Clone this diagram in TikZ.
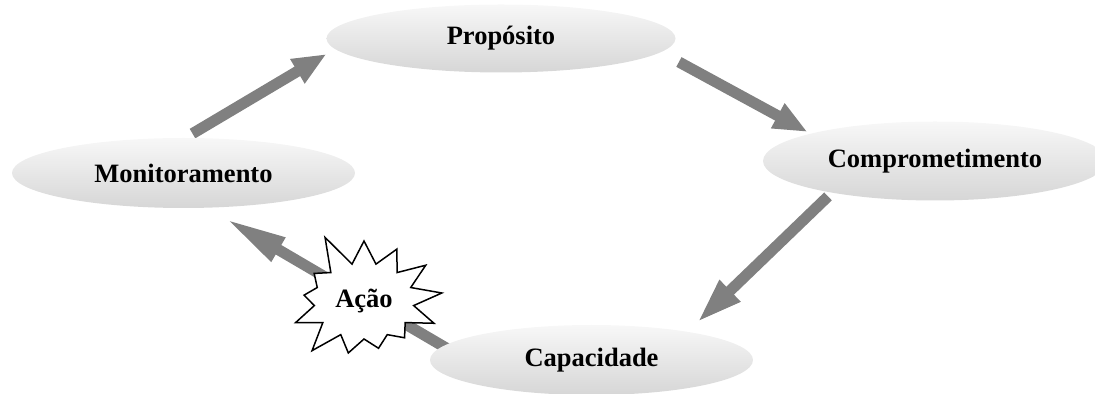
\documentclass[tikz,border=0pt]{standalone}
\usepackage{fontspec}
\setmainfont{Liberation Serif}
\usetikzlibrary{arrows.meta,shapes.geometric,shapes.symbols,backgrounds}

\begin{document}
\begin{tikzpicture}[x=0.5pt,y=-0.5pt]

        \useasboundingbox (0,0) rectangle (1095,394);

        \begin{scope}[every node/.style={ellipse,inner sep=0pt,top color=gray!6,bottom color=gray!32,
            font=\fontsize{13.25}{15}\selectfont\bfseries}]
          \node[minimum width=174.5pt,minimum height=34pt] (prop) at (501,38.5) {Propósito};
          \node[minimum width=171.5pt,minimum height=35pt] (mon)  at (183.5,173) {Monitoramento};
          \node[minimum width=172pt,minimum height=39.5pt] (comp) at (935,161)   {Comprometimento};
          \node[minimum width=161.5pt,minimum height=35pt] (cap)  at (591.5,360) {Capacidade};
        \end{scope}

        \node[starburst,draw,fill=white,line width=0.75pt,starburst points=13,
          starburst point height=18pt,random starburst=5,minimum width=80pt,minimum height=74pt,
          font=\fontsize{13.25}{15}\selectfont\bfseries] (acao) at (364,301) {Ação};

        \begin{scope}[on background layer,
            every edge/.style={draw=gray,line width=5.5pt,-{Triangle[length=17pt,width=13pt]}}]
          \path ([shift={(9,-4)}]mon.north)   edge ([shift={(0.5,15.5)}]prop.west);
          \path ([shift={(3,23.5)}]prop.east) edge ([shift={(45,-29)}]comp.west);
          \path ([shift={(-107,-4.5)}]comp.south) edge[-{Triangle[length=23pt,width=13.5pt]}]
            ([shift={(105.5,-2)}]cap.north);
          \path ([shift={(20,-10)}]cap.west)  edge[-{Triangle[length=31pt,width=12.5pt]}]
            ([shift={(41.5,10)}]mon.south);
        \end{scope}

      \end{tikzpicture}
\end{document}
